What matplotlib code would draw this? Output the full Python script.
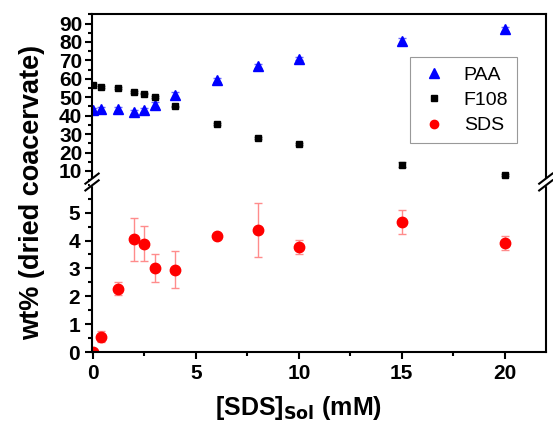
import matplotlib
matplotlib.use("Agg")
import matplotlib.pyplot as plt
from matplotlib.ticker import MultipleLocator
from matplotlib.lines import Line2D

plt.rcParams["font.family"] = ["Liberation Sans", "DejaVu Sans"]

# ---- datos ----
sds_sol = [0, 0.4, 1.2, 2, 2.5, 3, 4, 6, 8, 10, 15, 20]

paa = [43, 43.5, 43.5, 42, 43, 46, 51, 59.5, 67, 71, 80.5, 87]
paa_err = [1, 1, 1, 1, 1, 1.2, 2, 1.2, 1.2, 1, 1.5, 1]

f108 = [56.5, 55.5, 55, 53, 52, 50, 45, 35.5, 28, 24.5, 13.5, 8]
f108_err = [0.5, 0.5, 0.5, 0.5, 0.5, 0.5, 0.5, 0.5, 0.5, 0.5, 1.5, 0.5]

sds = [0.0, 0.55, 2.27, 4.05, 3.88, 3.01, 2.95, 4.18, 4.37, 3.77, 4.68, 3.91]
sds_err = [0.0, 0.2, 0.24, 0.77, 0.63, 0.49, 0.67, 0.05, 0.96, 0.24, 0.43, 0.25]

# ---- figura ----
fig = plt.figure(figsize=(5.53, 4.23), dpi=100)
left, width = 0.1664, 0.8206
corte = 0.5697
ax_top = fig.add_axes([left, corte, width, 0.967 - corte])
ax_bot = fig.add_axes([left, 0.1678, width, corte - 0.1678])

ax_top.errorbar(sds_sol, paa, yerr=paa_err, fmt="^", color="blue", ms=7,
                ecolor=(0.4, 0.4, 1.0), elinewidth=1, capsize=3)
ax_top.errorbar(sds_sol, f108, yerr=f108_err, fmt="s", color="black", ms=5,
                ecolor="gray", elinewidth=1, capsize=3)
ax_bot.errorbar(sds_sol, sds, yerr=sds_err, fmt="o", color="red", ms=7.5,
                ecolor=(1.0, 0.55, 0.55), elinewidth=1, capsize=3)

xmin, xmax = -0.05, 22
for ax in (ax_top, ax_bot):
    ax.set_xlim(xmin, xmax)
    for s in ax.spines.values():
        s.set_linewidth(1.5)
    ax.tick_params(which="both", direction="out", width=1.5, labelsize=15)
    ax.tick_params(which="major", length=5)
    ax.tick_params(which="minor", length=3)

ax_top.set_ylim(4, 95.2)
ax_top.set_yticks(range(10, 91, 10))
ax_top.yaxis.set_minor_locator(MultipleLocator(5))
ax_top.spines["bottom"].set_visible(False)
ax_top.tick_params(axis="x", which="both", bottom=False, labelbottom=False)
ax_top.tick_params(axis="y", pad=2)

ax_bot.set_ylim(0, 6.1)
ax_bot.set_yticks([0, 1, 2, 3, 4, 5])
ax_bot.yaxis.set_minor_locator(MultipleLocator(0.5))
ax_bot.set_xticks([0, 5, 10, 15, 20])
ax_bot.xaxis.set_minor_locator(MultipleLocator(2.5))
ax_bot.spines["top"].set_visible(False)

for ax in (ax_top, ax_bot):
    for t in ax.get_xticklabels() + ax.get_yticklabels():
        t.set_fontweight("bold")

# marcas de corte //
d = 0.012
for xx in (0, 1):
    fig.patches.append(plt.Rectangle(
        (left + xx * width - 0.004, corte - 0.007), 0.008, 0.014,
        transform=fig.transFigure, color="white", zorder=5))
    for off in (-0.008, 0.008):
        fig.lines.append(Line2D(
            [left + xx * width - d, left + xx * width + d],
            [corte + off - 0.012, corte + off + 0.012],
            transform=fig.transFigure, color="black", lw=1.5, zorder=6))

fig.text(0.54, 0.035, r"[SDS]$_{\mathbf{Sol}}$ (mM)", fontsize=18,
         fontweight="bold", ha="center", va="center")
fig.text(0.058, 0.546, "wt% (dried coacervate)", rotation=90, fontsize=19.5,
         fontweight="bold", ha="center", va="center")

handles = [
    Line2D([], [], ls="", marker="^", color="blue", ms=7),
    Line2D([], [], ls="", marker="s", color="black", ms=5),
    Line2D([], [], ls="", marker="o", color="red", ms=6),
]
leg = ax_top.legend(handles, ["PAA", "F108", "SDS"], loc="upper left",
                    bbox_to_anchor=(0.68, 0.80), fontsize=14, frameon=True,
                    fancybox=False, edgecolor="gray", handletextpad=0.8,
                    borderpad=0.45, labelspacing=0.4, handlelength=1.5)
leg.get_frame().set_linewidth(0.8)

fig.savefig("out.png", dpi=100)
